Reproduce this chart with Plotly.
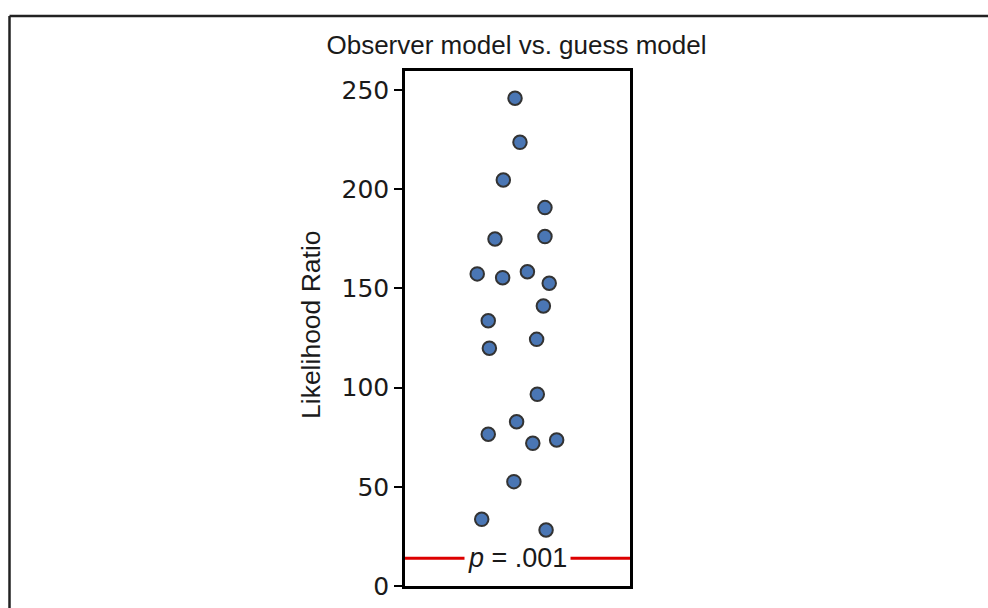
import plotly.graph_objects as go

W, H = 988, 608

# Data
likelihood_ratio = [245.8, 223.6, 204.6, 190.7, 174.9, 176.1, 157.3, 155.4, 158.4, 152.6,
                    141.1, 133.7, 124.3, 119.8, 96.6, 82.8, 76.5, 71.9, 73.6, 52.6, 33.6, 28.2]
jitter = [-0.011, 0.011, -0.063, 0.122, -0.100, 0.122, -0.179, -0.066, 0.044, 0.141,
          0.115, -0.130, 0.085, -0.125, 0.088, -0.004, -0.130, 0.068, 0.174, -0.016, -0.159, 0.127]
threshold = 14.0
threshold_label = "<i>p</i> = .001"
y_ticks = [0, 50, 100, 150, 200, 250]
title_text = "Observer model vs. guess model"
y_title = "Likelihood Ratio"

def px_x(p):
    return p / W

def px_y(p):
    return 1 - p / H

fig = go.Figure()
fig.add_trace(go.Scatter(
    x=jitter, y=likelihood_ratio, mode="markers",
    marker=dict(size=13.5, color="#4a76b4", line=dict(color="#333333", width=2)),
    showlegend=False, hoverinfo="y",
))

fig.add_shape(type="line", xref="x domain", yref="y", x0=0, x1=1, y0=threshold, y1=threshold,
              line=dict(color="#dd0000", width=3), layer="below")

fig.add_annotation(x=0.0, y=threshold, xref="x", yref="y", text=threshold_label,
                   showarrow=False, bgcolor="white", borderpad=3,
                   font=dict(family="Liberation Sans, Arial", size=27, color="#1a1a1a"),
                   xanchor="center", yanchor="middle")

# y-axis title
fig.add_annotation(x=px_x(311), y=px_y(325), xref="paper", yref="paper", text=y_title,
                   textangle=-90, showarrow=False,
                   font=dict(family="Liberation Sans, Arial", size=26.5, color="#1a1a1a"),
                   xanchor="center", yanchor="middle")

# outer frame (left and top edges visible)
fig.add_shape(type="line", xref="paper", yref="paper", x0=px_x(9.5), x1=px_x(9.5),
              y0=-0.01, y1=px_y(16), line=dict(color="#222222", width=2.5))
fig.add_shape(type="line", xref="paper", yref="paper", x0=px_x(9.5), x1=1.01,
              y0=px_y(16), y1=px_y(16), line=dict(color="#222222", width=2.5))

fig.update_layout(
    width=W, height=H,
    margin=dict(l=0, r=0, t=0, b=0),
    paper_bgcolor="white", plot_bgcolor="white",
    title=dict(text=title_text, x=px_x(516.5), xanchor="center", xref="paper",
               y=px_y(45), yanchor="middle", yref="paper",
               font=dict(family="Liberation Sans, Arial", size=26, color="#1a1a1a")),
    xaxis=dict(domain=[px_x(405), px_x(630)], range=[-0.5, 0.5],
               showgrid=False, zeroline=False, showticklabels=False, ticks="",
               showline=True, linecolor="black", linewidth=2.5, mirror=True,
               fixedrange=True),
    yaxis=dict(domain=[px_y(586), px_y(70.5)], range=[0, 259.8],
               tickvals=y_ticks, ticktext=[str(v) for v in y_ticks],
               showgrid=False, zeroline=False,
               ticks="outside", ticklen=8, tickwidth=2, tickcolor="black",
               tickfont=dict(family="DejaVu Sans", size=25, color="#1a1a1a"),
               showline=True, linecolor="black", linewidth=2.5, mirror=True,
               automargin=False, fixedrange=True),
)

fig.write_html("out.html", config={"displayModeBar": False},
               post_script="document.body.style.margin='0';document.body.style.overflow='hidden';")
